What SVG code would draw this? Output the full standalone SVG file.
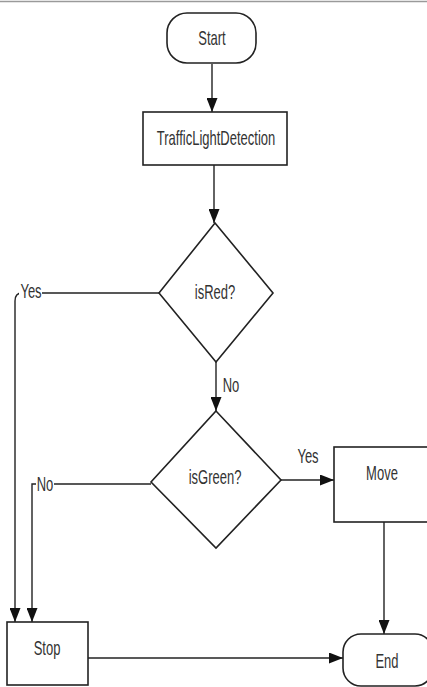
<svg xmlns="http://www.w3.org/2000/svg" width="427" height="687" viewBox="0 0 427 687">
  <defs>
    <marker id="arrow" markerUnits="userSpaceOnUse" markerWidth="14" markerHeight="11" refX="14" refY="5.5" orient="auto">
      <path d="M0,0 L14,5.5 L0,11 Z" fill="#111"/>
    </marker>
    <style>
      .shape { fill: #fff; stroke: #222; stroke-width: 1.6; }
      .edge { fill: none; stroke: #222; stroke-width: 1.4; }
      .lbl { font-family: "Liberation Sans", Arial, sans-serif; font-size: 20px; fill: #333; text-anchor: middle; }
      .mask { fill: #fff; stroke: none; }
    </style>
  </defs>

  <rect width="427" height="687" fill="#fff"/>
  <!-- top rule -->
  <line x1="0" y1="1.5" x2="427" y2="1.5" stroke="#9a9a9a" stroke-width="1.5"/>

  <!-- connectors -->
  <g id="connectors">
    <path class="edge" d="M212,64 V112" marker-end="url(#arrow)"/>
    <path class="edge" d="M214,165 V223" marker-end="url(#arrow)"/>
    <path class="edge" d="M159,293 H22 Q15,293 15,301 V622" marker-end="url(#arrow)"/>
    <path class="edge" d="M216,362 V411" marker-end="url(#arrow)"/>
    <path class="edge" d="M151,484 H32 V622" marker-end="url(#arrow)"/>
    <path class="edge" d="M281,480 H334" marker-end="url(#arrow)"/>
    <path class="edge" d="M384,522 V634" marker-end="url(#arrow)"/>
    <path class="edge" d="M88,658 H343" marker-end="url(#arrow)"/>

    <!-- edge labels -->
    <rect class="mask" x="19" y="284" width="23" height="17"/>
    <text class="lbl" transform="translate(31,298) scale(0.65,1)">Yes</text>
    <text class="lbl" transform="translate(231,392) scale(0.65,1)">No</text>
    <text class="lbl" transform="translate(308,463) scale(0.65,1)">Yes</text>
    <rect class="mask" x="36" y="477" width="18" height="16"/>
    <text class="lbl" transform="translate(45,491) scale(0.65,1)">No</text>
  </g>

  <g id="start">
    <rect class="shape" x="167" y="13" width="89" height="50" rx="20" ry="20"/>
    <text class="lbl" transform="translate(212,45) scale(0.65,1)">Start</text>
  </g>

  <g id="traffic-light-detection">
    <rect class="shape" x="143" y="112" width="144" height="53"/>
    <text class="lbl" transform="translate(216,145) scale(0.65,1)">TrafficLightDetection</text>
  </g>

  <g id="is-red">
    <polygon class="shape" points="215,223 273,293 216,362 159,293"/>
    <text class="lbl" transform="translate(215,299) scale(0.65,1)">isRed?</text>
  </g>

  <g id="is-green">
    <polygon class="shape" points="216,411 281,480 216,548 151,482"/>
    <text class="lbl" transform="translate(215,484) scale(0.65,1)">isGreen?</text>
  </g>

  <g id="move">
    <rect class="shape" x="334" y="447" width="98" height="75"/>
    <text class="lbl" transform="translate(382,480) scale(0.65,1)">Move</text>
  </g>

  <g id="stop">
    <rect class="shape" x="7" y="622" width="81" height="63"/>
    <text class="lbl" transform="translate(47,655) scale(0.65,1)">Stop</text>
  </g>

  <g id="end">
    <rect class="shape" x="343" y="634" width="90" height="52" rx="18" ry="18"/>
    <text class="lbl" transform="translate(387,668) scale(0.65,1)">End</text>
  </g>
</svg>
